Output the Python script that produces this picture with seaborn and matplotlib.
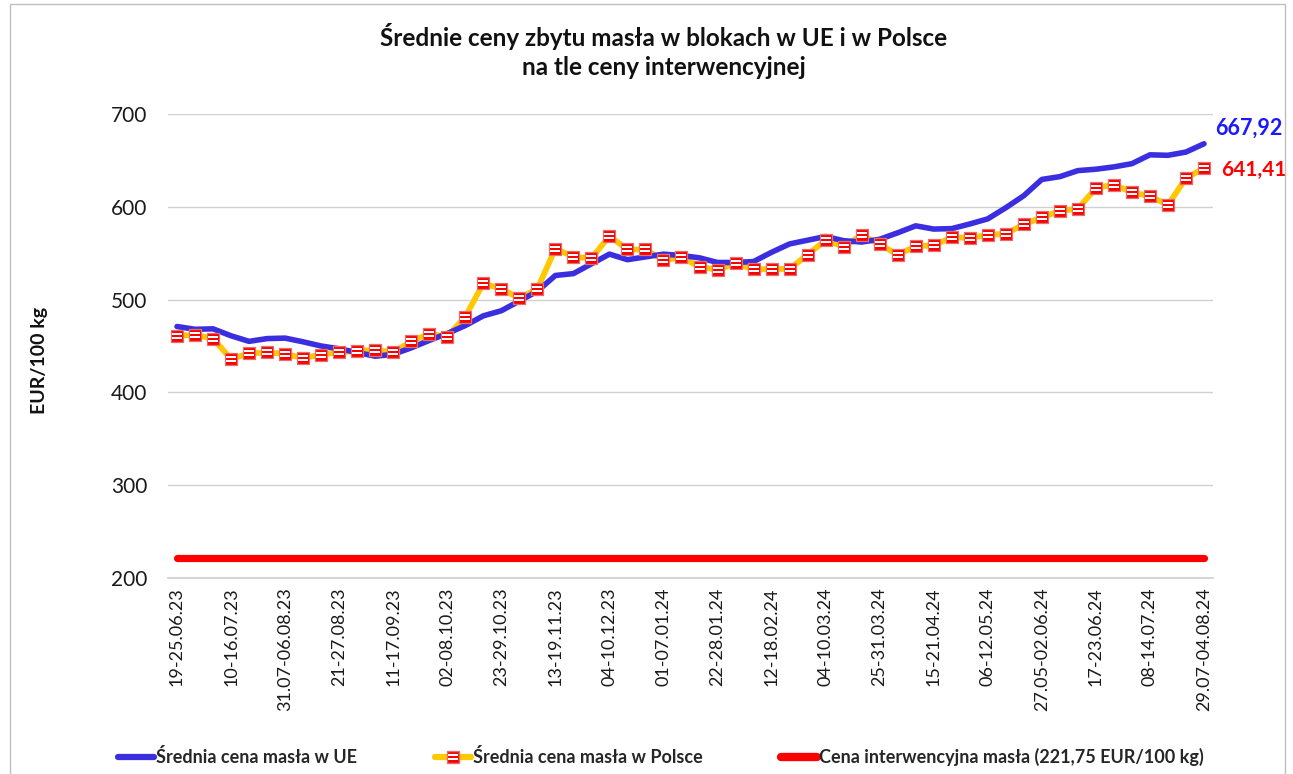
import numpy as np
import pandas as pd
import matplotlib.pyplot as plt
import seaborn as sns
from matplotlib.path import Path
from matplotlib.lines import Line2D
from matplotlib.patches import Rectangle
from matplotlib.legend_handler import HandlerTuple

# Dane tygodniowe (EUR/100 kg), 58 notowan, etykiety co 3 tydzien
tick_labels = [
    "19-25.06.23", "10-16.07.23", "31.07-06.08.23", "21-27.08.23", "11-17.09.23",
    "02-08.10.23", "23-29.10.23", "13-19.11.23", "04-10.12.23", "01-07.01.24",
    "22-28.01.24", "12-18.02.24", "04-10.03.24", "25-31.03.24", "15-21.04.24",
    "06-12.05.24", "27.05-02.06.24", "17-23.06.24", "08-14.07.24", "29.07-04.08.24",
]

cena_ue = [
    471, 468, 468.5, 461, 455, 458, 458.5, 454.5, 450, 447,
    443, 439, 441, 448, 456, 463.5, 472, 482.5, 488, 498.5,
    509, 526, 528, 538.5, 549, 543, 546, 549, 547.5, 545,
    540, 540, 541, 551, 560, 564, 568, 563.5, 562, 565,
    572, 579.5, 576, 576.5, 581.5, 587, 599, 612, 629.5, 632.5,
    639, 640.5, 643, 646.5, 656, 655.5, 659, 667.92,
]

cena_pl = [
    461, 462, 458, 436, 442, 443, 441.5, 437, 440.5, 443.5,
    444.5, 446, 443, 455, 463, 460, 481.5, 517.5, 511.5, 501.5,
    511.5, 555, 546, 544.5, 568.5, 554, 554, 542.5, 545.5, 535.5,
    532, 539, 532.5, 533, 533, 548.5, 564, 557, 569.5, 559.5,
    548.5, 557.5, 558.5, 567, 566.5, 569.5, 571, 581, 588.5, 595.5,
    598, 620, 624, 615.5, 611.5, 602, 631, 641.41,
]

cena_interw = 221.75

df = pd.DataFrame({
    "tydzien": np.arange(len(cena_ue)),
    "ue": cena_ue,
    "pl": cena_pl,
    "interw": [cena_interw] * len(cena_ue),
})

BLUE = "#3a2ee0"
YELLOW = "#ffc800"
RED = "#ff0000"

sns.set_theme(style="white")
plt.rcParams["font.family"] = ["Lato", "DejaVu Sans"]

# marker w paski (czerwony kwadrat + dwa biale paski)
verts = [(-0.5, -0.5), (0.5, 0.5)]
codes = [Path.MOVETO, Path.MOVETO]
for y0, y1 in [(-0.24, -0.09), (0.09, 0.24)]:
    verts += [(-0.42, y0), (0.42, y0), (0.42, y1), (-0.42, y1), (-0.42, y0)]
    codes += [Path.MOVETO, Path.LINETO, Path.LINETO, Path.LINETO, Path.CLOSEPOLY]
stripes = Path(verts, codes)

fig = plt.figure(figsize=(12.93, 7.74), dpi=100)
ax = fig.add_axes([168 / 1293, 1 - 578 / 774, (1213 - 168) / 1293, (578 - 114) / 774])

sns.lineplot(data=df, x="tydzien", y="interw", color=RED, linewidth=5.2,
             solid_capstyle="round", ax=ax)
sns.lineplot(data=df, x="tydzien", y="pl", color=YELLOW, linewidth=4.2, ax=ax)
sns.scatterplot(data=df, x="tydzien", y="pl", marker="s", s=85, color=RED,
                edgecolor="#e07070", linewidth=0.9, zorder=4, ax=ax)
sns.scatterplot(data=df, x="tydzien", y="pl", marker=stripes, s=85, color="white",
                linewidth=0, zorder=5, ax=ax)
sns.lineplot(data=df, x="tydzien", y="ue", color=BLUE, linewidth=4.0,
             solid_capstyle="round", zorder=3, ax=ax)

ax.set_xlim(-0.5, len(cena_ue) - 0.5)
ax.set_ylim(200, 700)
ax.set_yticks([200, 300, 400, 500, 600, 700])
ax.set_xticks(np.arange(0, len(cena_ue), 3))
ax.set_xticklabels(tick_labels, rotation=90, va="top", ha="center")
ax.tick_params(axis="x", length=0, pad=7, labelsize=13, labelcolor="#1a1a1a")
ax.tick_params(axis="y", length=0, pad=15, labelsize=15, labelcolor="#1a1a1a")
ax.set_xlabel("")
ax.set_ylabel("")
ax.grid(axis="y", color="#d0d0d0", linewidth=1)
for s in ["top", "right", "left"]:
    ax.spines[s].set_visible(False)
ax.spines["bottom"].set_color("#d0d0d0")

# etykiety ostatnich wartosci
ax.annotate("667,92", xy=(len(cena_ue) - 1, cena_ue[-1]), xytext=(8, 11),
            textcoords="offset points", color="#1a1aff", fontsize=15.5,
            fontweight="bold", ha="left", va="center", annotation_clip=False)
ax.annotate("641,41", xy=(len(cena_pl) - 1, cena_pl[-1]), xytext=(12, -1),
            textcoords="offset points", color=RED, fontsize=15,
            fontweight="bold", ha="left", va="center", annotation_clip=False)

fig.text(664 / 1293, 1 - 51 / 774,
         "Średnie ceny zbytu masła w blokach w UE i w Polsce\nna tle ceny interwencyjnej",
         ha="center", va="center", fontsize=17.5, fontweight="bold",
         linespacing=1.3, color="#111111")
fig.text(40 / 1293, 1 - 360 / 774, "EUR/100 kg", rotation=90, ha="center",
         va="center", fontsize=14, fontweight="bold", color="#111111")

# legenda
h_ue = Line2D([], [], color=BLUE, linewidth=4.5, solid_capstyle="round")
h_pl = (Line2D([], [], color=YELLOW, linewidth=4.5, marker="s", markersize=9,
               markerfacecolor=RED, markeredgecolor="#e07070"),
        Line2D([], [], linestyle="none", marker=stripes, markersize=9,
               markerfacecolor="white", markeredgewidth=0))
h_in = Line2D([], [], color=RED, linewidth=6, solid_capstyle="round")
fig.legend([h_ue, h_pl, h_in],
           ["Średnia cena masła w UE", "Średnia cena masła w Polsce",
            "Cena interwencyjna masła (221,75 EUR/100 kg)"],
           handler_map={tuple: HandlerTuple(ndivide=1)},
           loc="center", bbox_to_anchor=(102 / 1293, 1 - 770 / 774, (1220 - 102) / 1293, 26 / 774),
           mode="expand", ncol=3, frameon=False, handlelength=2.0, handletextpad=0.1,
           prop={"size": 13, "weight": "bold"})

fig.patches.append(Rectangle((10 / 1293, -0.01), (1285 - 10) / 1293, 1.005,
                             transform=fig.transFigure, fill=False,
                             edgecolor="#bfbfbf", linewidth=1))

fig.savefig("out.png", dpi=100)
